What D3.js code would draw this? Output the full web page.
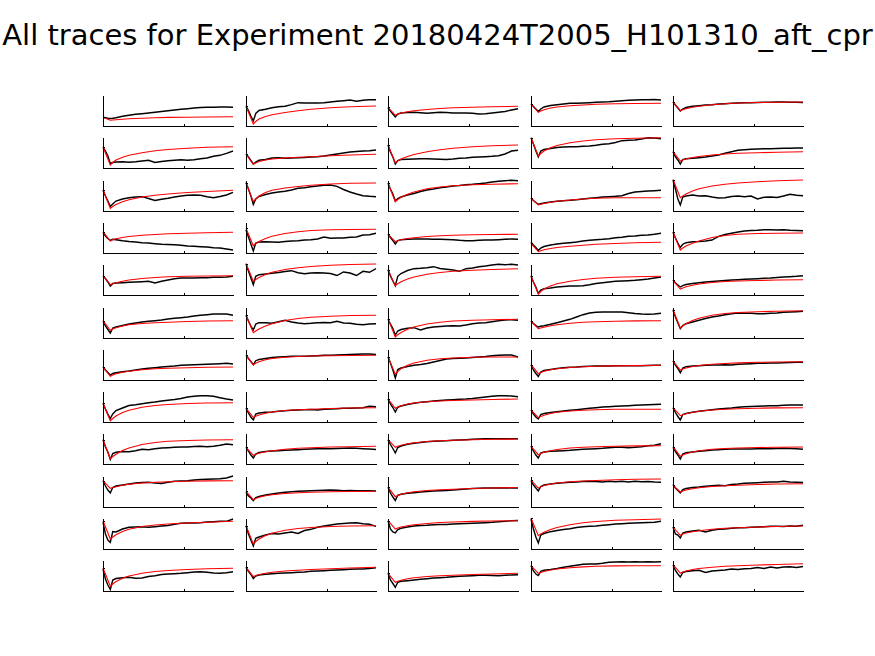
<!DOCTYPE html>
<html><head><meta charset="utf-8">
<script src="https://cdn.jsdelivr.net/npm/d3@7"></script>
<style>body{margin:0;background:#fff}svg{display:block}</style>
</head><body>
<script>
const title = "All traces for Experiment 20180424T2005_H101310_aft_cpr";
const sampleTimes = [0,15,30,45,60,80,120,160,200,240,280,320,360,400,440,480,520,560,600,640,680,720,760,800];
const fitTimes = [0,45,60,80,120,160,240,320,400,520,640,800];
const xTicks = [500];

// measured traces, one per panel (row-major, 12 rows x 5 columns)
const traces = [
[8.7,8.3,7.7,7.5,7.7,8.3,9.7,10.7,11.7,12.3,13,13.7,14.5,15.3,16,16.7,17.3,18,18.5,18.7,18.7,19,19,18.7],
[19.7,15.5,10,5,12.5,15.5,16.8,18.3,19.3,19.7,21.3,23.3,23,23,23,23.3,24,24.7,25.3,26,24.8,25.7,26.3,26.3],
[18,15,12,9,12,13,13.5,13.7,13.3,12.8,13.2,13.7,13.5,13,13,13,12.7,12,12.3,13,13.7,14.5,16,17.3],
[22,19.5,17,14.5,17,19,20.5,21.3,22,22.7,22.8,23,23.3,23.7,24,24.3,24.8,25.3,25.7,26,26.3,26.3,26.5,26],
[24,21,18,15,17,18.5,19.7,20.3,21,21.3,22,22.3,22.7,23,23.3,23.3,23.5,23.7,23.7,24,24,23.8,23.7,23.5],
[21,17,12,4.5,5.5,6,6.3,5.8,6.3,7,7.7,5.5,6.5,7.3,7.7,8.2,7.7,8.3,9.3,10,11.7,12.7,14.7,17],
[13.7,11,7.5,4,6,7.7,8.5,10,10.3,9.7,10,10.3,10.5,11,11.3,12,13,14,15,16,16.5,17,17.3,18],
[23,16,11,4,7.5,8.5,8.7,9,9.3,9.3,9,8.7,8.5,9,9.7,10,10.7,11,11.3,11.7,12.3,14,17,17.7],
[30.3,24,17,11,17,18.5,19.5,20.5,21,21.3,21.3,21.7,22,22.7,23.7,24.3,25.5,27.3,27.7,28,29,30.3,30,29.3],
[16.3,11,8,4,8.5,9.3,9.7,10.3,11,12,13,14.7,16.3,17.7,18.3,18.7,19,19.3,19.3,19.5,19.7,19.8,20,20],
[21,15,10,4.5,7,10,12,13.3,14,14.3,12.5,10.5,11.7,12.7,14,15,15.7,16,15.7,14.3,13.3,14.5,16,18.7],
[28.3,22,15,6.5,12,14.5,16.5,18,19,19.7,21,22.7,23.3,24.3,25,25.7,26,24.7,21.5,19,17,15.3,14.7,14.3],
[27.7,22,17,10,12.5,14,16,17.5,19.5,21,22,23.3,24,25,25.5,26.3,26.7,27.3,28,29,29.7,30.3,30.7,30.3],
[12.7,10.5,8.5,6.7,7.3,8,9,9.7,10.3,10.7,11.3,12,12.7,13.3,14,14.3,14.7,15.3,17.5,19,19.5,20,20.3,20.7],
[31,22,12,6,14,15,16,15,15.3,14,13,13.3,14.5,15,14.3,15,12,13.7,14,13.5,15,16.7,15.7,15.3],
[20.7,17,14.5,12.5,13.7,13.3,12.3,11.5,11,10.3,10,9.3,8.7,8.5,8.3,7.7,7,6.7,6.3,6,5.3,5,4,3],
[23,16,9,2,10,11,11.3,11,10.7,11.5,12,12.3,13,13.3,14,16,14.7,15,15,15.7,16,18,18.3,19.7],
[18.7,15.5,12.5,9,12.5,13.3,13.7,14,14,14,13.8,13.7,13.5,13.3,12.7,12.3,12.3,12.7,13,13,13.3,13.7,14,13.7],
[10.7,8,5.5,2.5,5,6.5,8,9,9.7,10.3,11,12,12.7,13.3,13.7,14.3,15.3,15.7,16.7,17,17.7,18,18.7,19.7],
[20.7,15,10,5.5,8.7,10.3,11.3,11.5,12,13,16.5,18.5,19.7,21,22,22.5,22.8,23.3,23.3,23,23.3,22.8,22.5,22.3],
[19.3,16.5,13,9,11.5,12,12.3,12.7,13,13.3,13.7,12,13.7,15,16.3,17,17,17,17.3,17.3,17.7,17.7,18,18.7],
[31,24,17,10.3,18.7,20.3,21,21.7,22.5,23.5,24.3,22.3,21.3,22,22.3,22,21.5,19.5,23,22,19.5,23.7,22.7,26.3],
[25.3,19,14,9.3,18.7,21.5,24.5,26.3,26.7,27.3,28.3,26.5,25.7,25,23.7,26.3,27,28.3,29,30,30.7,30.3,30.7,30],
[18.7,13,8,1.5,5,6.3,7,8,8.5,9,9,9.3,10.3,11.5,12.3,13,13.7,14,14.3,14.7,15.3,16,17,18],
[14.7,12,10,8,9.3,10.5,11.5,12.3,13,13.5,14,14.5,15,15.3,15.7,16,16.3,16.7,17,17.5,18,18.3,18.7,19.3],
[16.7,12,8.5,5,10,11,12.5,14,15,16,16.7,17.3,18,19,19.7,20.3,21,22,22.7,23.3,24,24,24,22.7],
[22.7,17,12,8,14,15.3,15.3,14.7,16.3,17.7,16,15,14.3,14.7,15.3,15.5,15.3,16.7,15,14.7,13.7,13.3,14,14.3],
[18.7,14,9.5,3,7,8.5,9.7,10.3,8,10,11,11.5,12,12.3,12,13,14.3,15,15.3,16.3,17.3,18,18.3,17.7],
[16.7,14.5,12.5,11,11.7,12.3,13.7,15.3,17,18.7,21,23.3,25,25.7,26,26,26,26,25.3,24.5,24,23.7,24,24.7],
[27.7,21,15,9.3,12.5,14.3,16,17.7,19.5,21,22,23.3,24.3,25,24.7,24.7,24.3,24.3,24.7,25,25.7,26,26.3,26.7],
[13,10,7.5,5,6.5,7.3,8.3,9,10,11,11.7,12.3,13,13.5,14,14.7,15,15.3,15.5,15.7,16,16.3,16.7,16],
[24.7,21.5,18.5,15.3,19.3,20.5,21.5,22.5,23,23.3,23.7,23.7,23.8,24,24.3,24.7,24.7,25,25.3,25.5,25.7,26,26,25.5],
[23,17,10,2,10.5,12,13.5,14.7,15.5,16.5,18,19.5,21,21.5,21.7,22,22.5,23,23.5,24.3,24.7,25,25,23],
[15.3,10,6.5,3.5,8,9.5,10.5,11.5,12.3,12.7,13,13.5,13.8,14,14,14,14.2,14.3,14.2,14.3,14.3,14.5,14.7,14.7],
[19,15,11.5,7.3,12,13.3,14,14.3,14.7,15,15,15.3,15,15.7,16,16.3,16.7,16.7,17,17,17.3,17.5,17.7,17.7],
[18.7,13,8,3.5,8,11.5,14,16.5,17.3,18.3,19.3,20,21,21.7,22.5,23.5,25,25.7,26.3,26.3,25.7,24.3,23,22],
[13.7,9,5,2,8,9,9.7,10,10.7,11.3,11.7,12,12.3,12.5,12,12.7,13,13.3,13.7,13.7,14,14.3,15.7,15.3],
[23,18,14.5,10,14.7,16,17.5,18.7,19.7,20.3,21,21.5,22,22.3,22.7,23,23.5,24.3,25,25.7,26.3,26.3,26,25.3],
[12,8,5,3,7.5,8.5,9.5,10.3,11,11.7,12.3,13,13.7,14.3,15,15.3,15.7,16,16.3,16.7,17,17.3,17.5,17.7],
[14.3,9.5,5.5,2,7.5,8.5,9.7,10.7,11.5,12.3,13,13.5,14,14.7,15.3,15.5,15.7,16,16.3,16.3,16.7,17,17,17],
[24.3,17,12,4.5,10.5,11.7,12.5,12.3,13.3,14.7,14.3,15.3,16,16.3,16.7,17,17,17.5,17.7,17.3,17.7,18.7,20,19.3],
[16.7,13,9,6,10,11.5,12.5,13,13.3,13.7,14,14.3,14.7,15,15.3,15.3,15.3,15.5,15.7,16,15.7,15.3,15,14.5],
[24.3,19.5,15.5,11,16.5,18,19.7,20.7,21.5,22.3,22.7,23,23.3,23.7,24,24.3,24.7,25,25.3,25.3,25.3,25.3,25.3,25.3],
[17.7,13,9,6,11,12,12.7,13,13.3,13.7,14.3,14.7,15,15.3,15.7,16.3,16.7,16.7,16.3,16.7,17.3,18.3,18.7,20.3],
[16.7,12.5,9,5,10,11.3,12,12.7,13.3,14,14.3,14.7,15,15,15,15,15.2,15.3,15.3,15.5,15.7,15.5,15.3,14.7],
[26.3,21,17,14,19.5,21,22,23,24,24.5,24.7,24,23.5,24.7,25.7,26,26.3,27,27.5,27.7,28,28.3,29,31],
[14.7,11,9,6.3,9.5,10.5,12,13,14,14.7,15.3,15.7,16,16.3,16.5,16.7,17,16.7,16.3,16.5,16.3,16.3,16.3,16],
[19.7,14,10,6.5,11.7,12.7,13.7,14.3,15,15.5,16,16.3,16.5,17,17.5,18,18.5,18.7,19,19,19,19.2,19,19],
[26.3,22,19,16,20.5,22,23,23.7,24.3,24.7,25,25.5,25.7,25.5,25,25.7,25.3,25.7,25,25.7,25.3,25.5,25,24.7],
[22.7,19,16.5,14,17.5,18.5,19.5,20,20.7,21.3,21.7,21.3,22.5,23,23.7,24,24.3,24.7,25,25,25.7,25,24.7,24.5],
[26.7,15,9,6.7,17.5,17,20,21.7,22,22.3,21.7,22.3,23,23.5,24.7,25.7,26,26,26.3,27,27.3,27.7,27.7,30],
[23.3,15,9,3,10.7,12,14,15.5,15,16,17,15.5,18.5,19.7,21.7,23,24,25,25.5,26,26.3,25.3,24.7,22.7],
[28.3,20,17,16,19.5,20.7,22,23,23.5,23.7,24.3,24.5,24.5,25,25.3,25.5,25.7,26,26.3,26.7,27.3,27.7,28.3,28.5],
[30,20,12,6,14,15.5,17.3,18.5,19.5,20.3,21.5,22.3,22.7,23,23.7,24.3,25,25.3,25.7,26,26.3,26.5,26.7,27.7],
[22,15,14,11,16,17,18,18.7,17,18.7,19.7,20,20.7,21.3,21.3,21.7,22,22.3,22.7,22.7,22.5,23,22.7,23.7],
[22,12,6,1.5,11,12.5,13.3,13.7,12.7,13,14.5,15.3,16.5,17,17.3,17.7,18.3,19,19.3,18.7,18,17.7,18.3,19.3],
[23.7,19.7,16.5,12.5,15,16,16.7,17.3,17.7,18,18.3,18.7,19,19.7,20,20.3,20.7,21,21.3,21.7,22,22,22.5,23.3],
[17.7,11,7.5,3.7,8.7,9.7,10.3,11,11.7,12.3,13,13.3,13.7,14.3,14.7,15,15.3,15.7,15.7,15.5,15.3,15.7,16,16.3],
[25.3,20,17,15.5,19.7,20.7,21.5,22.5,23.7,24.7,25.7,26.7,27,27,27.7,28.7,29,29.3,29,29.3,29,29.3,29,29.3],
[25.7,20.5,17,14,18.5,19.5,20.3,20.7,18.5,20,20.5,21,22,21.5,22.3,22.5,23.5,22.5,24,23,24,24.3,23.5,24.5]
];

// fitted recovery curves, sampled at fitTimes
const fits = [
[8.7,5.7,6.0,6.3,6.8,7.2,7.7,8.2,8.6,8.8,9.0,9.2],
[19.7,2,4.5,7,9.5,11.3,13.5,15.3,16.7,18.3,19.2,20],
[18.7,10.7,12,13,14.3,15.2,16.5,17.5,18.2,18.8,19.2,19.7],
[22,13.7,15,16.3,18,19,20.3,21,21.7,22.2,22.5,22.7],
[24,15.3,16.3,17.3,18.8,19.8,21.3,22.3,23,23.5,23.8,24],
[21,3,5.5,8,10.8,12.7,15.3,17.2,18.5,19.8,20.7,21.3],
[13.7,3.7,5,6.5,8,9,10,10.7,11.3,12.3,13,13.7],
[23,5.3,7,9,11.5,13.5,16.3,18.3,19.8,21.2,22.2,23],
[30.3,12,14.5,17,20.3,22.5,25.3,27,28.2,29.3,29.8,30.3],
[16.3,7,8,9,10.5,11.5,13,14,14.7,15.3,15.8,16.3],
[21,2.7,4.5,6.5,9.3,11.3,14,15.8,17,18.5,19.5,20.7],
[28.3,9.3,12,15,18.5,20.7,23,24.5,25.7,27,27.7,28],
[27.7,9.3,11.5,13.7,16.8,19,22.3,24,25.3,26.3,26.8,27.3],
[12.7,6,6.7,7.5,8.7,9.7,11,12,12.7,13.2,13.3,13.3],
[31.5,13.3,15,17,20,22.3,25,26.7,28,29.3,30.2,31],
[21.3,12,13.3,14.3,15.5,16.5,17.7,18.5,19.2,19.8,20.2,20.7],
[24.7,7.3,9.5,11.5,14.5,16.7,19.5,21.3,22.5,23.2,23.5,23.7],
[18.7,11.3,12.3,13.3,14.5,15.3,16.5,17.3,17.8,18.2,18.5,18.7],
[9.7,1.3,2.3,3.3,4.5,5.5,6.8,7.8,8.7,9.5,10.2,10.7],
[20.7,3,5,7,9.8,12,15.5,17.5,18.7,19.5,19.8,20],
[19.3,10.3,11.3,12.3,13.8,15,16.5,17.5,18.2,18.7,19,19.3],
[31.5,13.7,15.5,17.5,20.5,22.7,25.5,27.3,28.5,29.8,30.5,31],
[25.3,9.3,11.3,13.3,16,18,20.7,22.5,23.7,24.8,25.5,26.3],
[18.7,1,3.5,6,9,11.3,13.8,15.5,16.7,17.7,18.3,18.7],
[14.7,6,7,8.2,9.8,11,12.5,13.5,14,14.5,15,15.3],
[17.3,7.7,9,10.3,12,13.3,14.5,15.3,15.8,16.5,17,17.3],
[22.7,5.3,7,9,12,14.3,17.5,19.5,20.7,21.8,22.5,22.7],
[19.3,1,3.3,5.5,8.7,11,14,15.8,17,17.8,18.3,18.7],
[16.7,9.3,10,10.8,12.2,13.3,14.8,15.7,16.3,16.8,17.1,17.3],
[28.3,10,12,14.3,17.5,19.8,22.8,24.5,25.5,26.3,26.8,27.3],
[13,3.7,5,6.3,7.8,8.8,10.3,11.2,11.8,12.3,12.7,13],
[24.7,15.3,16.8,18.3,20.3,21.5,22.8,23.5,24,24.3,24.5,24.7],
[23,5.7,8.5,11.3,14.8,17,19.7,21.2,22,22.7,23,23],
[15.3,6.3,7.5,8.7,10.3,11.3,12.5,13.2,13.7,14.1,14.4,14.7],
[19,10,11,12,13.5,14.5,15.7,16.5,17.1,17.7,18,18.3],
[18.7,1.3,3.5,6,9.5,11.8,14.8,16.5,17.5,18.5,19,19.3],
[13.7,4.7,5.7,7,8.8,10,11.5,12.3,12.8,13.5,14,14.3],
[23,13.7,15,16.3,18,19,20.3,21,21.5,22,22.5,23],
[12,4.3,5.5,6.8,8.5,9.7,11,11.8,12.3,12.7,12.7,12.7],
[14.3,6.3,7.2,8.2,9.7,10.8,12,12.8,13.3,13.8,14.1,14.3],
[24.3,5.3,7.5,9.8,13.5,16,19.5,21.5,22.7,23.5,24,24.3],
[16.7,8.7,9.7,10.7,12.2,13.3,14.7,15.7,16.3,17,17.3,17.7],
[24.3,16.7,17.7,18.7,20.2,21.2,22.5,23.3,23.8,24.3,24.7,25],
[17.7,9.3,10.5,11.7,13.3,14.5,16,16.8,17.3,17.8,18.1,18.3],
[17.3,7.7,9,10.3,12,13.3,14.7,15.5,16,16.5,16.8,17],
[26.3,18.7,19.5,20.3,21.7,22.7,24,24.8,25.3,25.8,26.1,26.3],
[15.7,7.3,8.5,9.7,11.3,12.3,13.5,14.2,14.7,15.2,15.5,15.7],
[19.7,10.3,11.5,12.7,14.3,15.3,16.5,17.3,17.8,18.5,19,19.5],
[27,19,20.3,21.5,23,24,25.3,26,26.5,27.2,27.7,28],
[21.7,15,16,17,18.3,19.2,20.5,21.3,21.8,22.5,23,23.3],
[28.3,10,12,14.3,17.5,19.8,22.5,24,25,26,26.7,27.7],
[23.3,5,7.5,10,13.5,15.8,18.8,20.5,21.5,22.5,23,23.3],
[28.3,20,21,22,23.3,24.3,25.5,26.5,27,27.6,28,28.3],
[31,13.3,15,16.7,19.5,21.5,24.3,26.3,27.5,28.7,29.3,30],
[22,13.7,15,16,17.3,18.3,19.8,20.8,21.3,22,22.5,23],
[23,4.7,7,9.5,12.7,15,17.8,19.5,20.5,21.5,22.2,22.7],
[23.7,14.3,15.5,16.5,17.8,18.8,20,20.8,21.5,22.3,23,23.7],
[17.7,8.7,9.7,10.7,12.2,13.2,14.5,15.3,15.8,16.5,17,17.7],
[25.3,17.7,18.5,19.5,21,22,23.3,24.1,24.7,25.1,25.3,25.3],
[26.3,18,19,20,21.5,22.5,23.8,24.7,25.3,26,26.5,27.3]
];

const W = 875, H = 656, nCols = 5;
const left0 = 103, colStep = 142.6, pw = 130, top0 = 95, rowStep = 42.3, ph = 31;

const svg = d3.select("body").append("svg").attr("width", W).attr("height", H);
svg.append("rect").attr("width", W).attr("height", H).attr("fill", "#fff");
svg.append("text")
  .attr("x", 437.5).attr("y", 45)
  .attr("text-anchor", "middle")
  .attr("font-family", "DejaVu Sans, sans-serif")
  .attr("font-size", 29)
  .attr("fill", "#000")
  .text(title);

const x = d3.scaleLinear().domain([0, 800]).range([0, pw]);
const y = d3.scaleLinear().domain([0, 31]).range([ph, 0]);
const blackLine = d3.line().x((d, i) => x(sampleTimes[i])).y(d => y(d));
const redLine = d3.line().x((d, i) => x(fitTimes[i])).y(d => y(d));

traces.forEach((tr, i) => {
  const r = Math.floor(i / nCols), c = i % nCols;
  const gx = Math.round(left0 + c * colStep), gy = Math.round(top0 + r * rowStep);
  const g = svg.append("g").attr("transform", `translate(${gx},${gy})`);
  g.append("path").datum(tr).attr("d", blackLine)
    .attr("fill", "none").attr("stroke", "#000").attr("stroke-width", 1.4)
    .attr("stroke-linejoin", "miter");
  g.append("path").datum(fits[i]).attr("d", redLine)
    .attr("fill", "none").attr("stroke", "#ff0000").attr("stroke-width", 1.1);
  const ax = g.append("g").attr("transform", `translate(0,${ph})`)
    .call(d3.axisBottom(x).tickValues(xTicks).tickSizeInner(-2).tickSizeOuter(0).tickFormat(""));
  const ay = g.append("g")
    .call(d3.axisLeft(y).tickValues([fits[i][0]]).tickSizeInner(-2).tickSizeOuter(0).tickFormat(""));
  [ax, ay].forEach(a => { a.selectAll("path,line").attr("stroke", "#000").attr("shape-rendering", "crispEdges"); });
});
</script>
</body></html>
